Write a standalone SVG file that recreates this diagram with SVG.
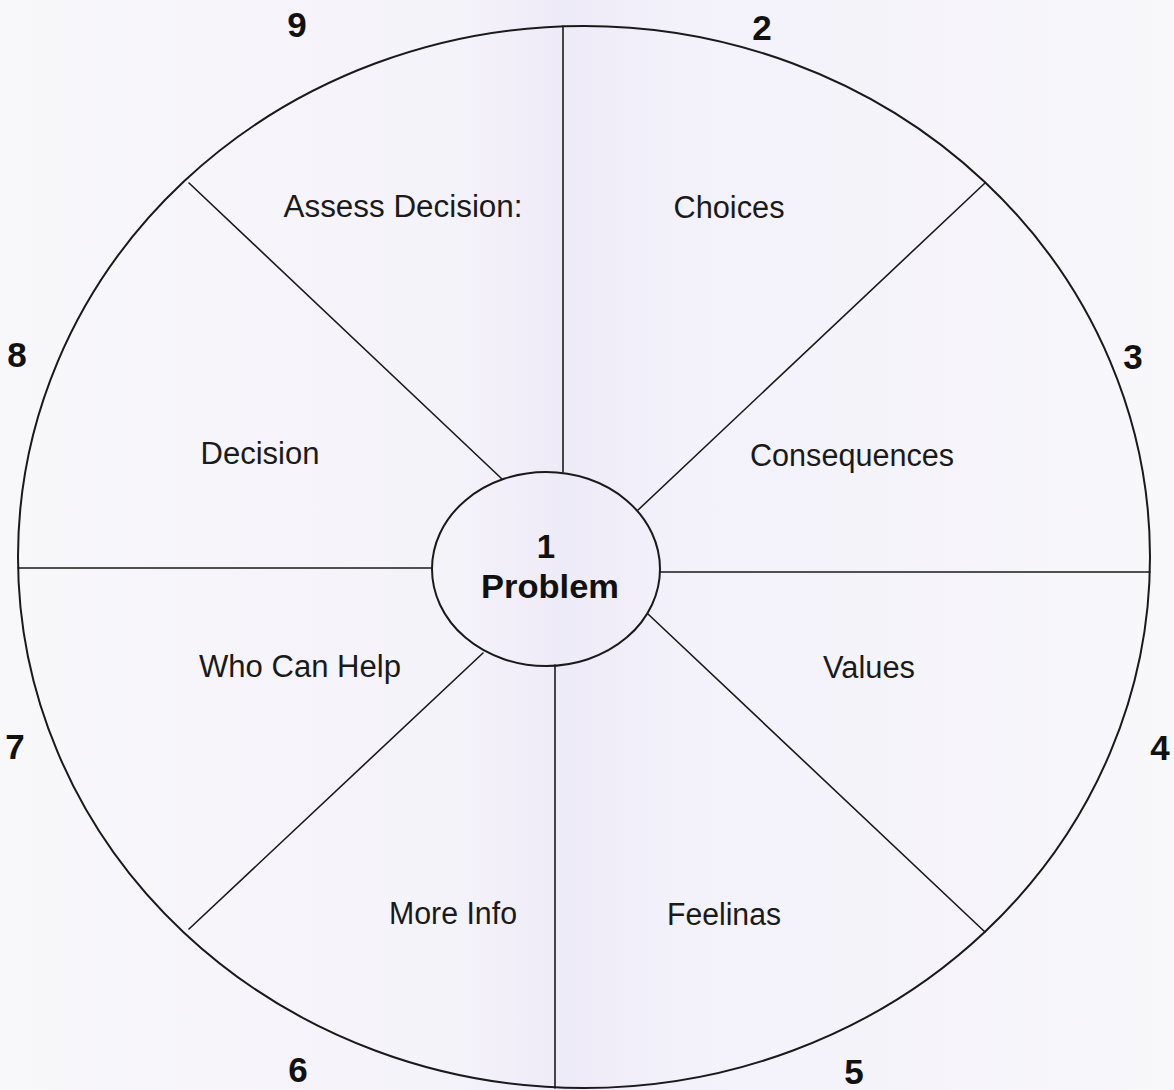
<svg xmlns="http://www.w3.org/2000/svg" width="1174" height="1090" viewBox="0 0 1174 1090">
<defs>
<linearGradient id="bg" x1="0" y1="0" x2="1" y2="0">
<stop offset="0" stop-color="#f8f7fa"/>
<stop offset="0.38" stop-color="#f5f3fa"/>
<stop offset="0.48" stop-color="#eeebf8"/>
<stop offset="0.58" stop-color="#f3f1fa"/>
<stop offset="1" stop-color="#f8f7fa"/>
</linearGradient>
<style>
.ln{stroke:#1a1a1a;stroke-width:1.6;fill:none;stroke-linecap:round}
.lbl{font-family:"Liberation Sans",Arial,sans-serif;font-size:31px;fill:#1a1a1a;text-anchor:middle}
.num{font-family:"Liberation Sans",Arial,sans-serif;font-size:35px;font-weight:bold;fill:#111;text-anchor:middle}
.ctr{font-family:"Liberation Sans",Arial,sans-serif;font-size:33px;font-weight:bold;fill:#111;text-anchor:middle}
</style>
</defs>
<rect x="0" y="0" width="1174" height="1090" fill="url(#bg)"/>
<g id="wheel">
<ellipse cx="584" cy="557" rx="566" ry="531" fill="none" stroke="#1a1a1a" stroke-width="2"/>
</g>
<g id="connectors">
<line class="ln" x1="563" y1="26" x2="563" y2="472"/>
<line class="ln" x1="555" y1="665" x2="555" y2="1088"/>
<line class="ln" x1="18" y1="568" x2="432" y2="568" stroke-width="2.2"/>
<line class="ln" x1="660" y1="572" x2="1150" y2="572" stroke-width="2.2"/>
<line class="ln" x1="189" y1="183" x2="502" y2="479"/>
<line class="ln" x1="985" y1="183" x2="638" y2="510"/>
<line class="ln" x1="189" y1="929" x2="483" y2="653"/>
<line class="ln" x1="985" y1="932" x2="648" y2="614"/>
</g>
<g id="center">
<ellipse cx="546" cy="569" rx="114" ry="97" fill="none" stroke="#1a1a1a" stroke-width="2"/>
<text class="ctr" x="546" y="558">1</text>
<text class="ctr" x="550" y="598" textLength="138" lengthAdjust="spacingAndGlyphs">Problem</text>
</g>
<g id="seg-assess"><text class="lbl" x="403" y="217" textLength="239" lengthAdjust="spacingAndGlyphs">Assess Decision:</text></g>
<g id="seg-choices"><text class="lbl" x="729" y="218" textLength="111" lengthAdjust="spacingAndGlyphs">Choices</text></g>
<g id="seg-decision"><text class="lbl" x="260" y="464" textLength="119" lengthAdjust="spacingAndGlyphs">Decision</text></g>
<g id="seg-consequences"><text class="lbl" x="852" y="466" textLength="204" lengthAdjust="spacingAndGlyphs">Consequences</text></g>
<g id="seg-who"><text class="lbl" x="300" y="677" textLength="202" lengthAdjust="spacingAndGlyphs">Who Can Help</text></g>
<g id="seg-values"><text class="lbl" x="869" y="678" textLength="92" lengthAdjust="spacingAndGlyphs">Values</text></g>
<g id="seg-moreinfo"><text class="lbl" x="453" y="924" textLength="128" lengthAdjust="spacingAndGlyphs">More Info</text></g>
<g id="seg-feelings"><text class="lbl" x="724" y="925" textLength="114" lengthAdjust="spacingAndGlyphs">Feelinas</text></g>
<g id="numbers">
<text class="num" x="297" y="37">9</text>
<text class="num" x="762" y="40">2</text>
<text class="num" x="17" y="367">8</text>
<text class="num" x="1133" y="369">3</text>
<text class="num" x="15" y="759">7</text>
<text class="num" x="1160" y="760">4</text>
<text class="num" x="298" y="1082">6</text>
<text class="num" x="854" y="1084">5</text>
</g>
</svg>
